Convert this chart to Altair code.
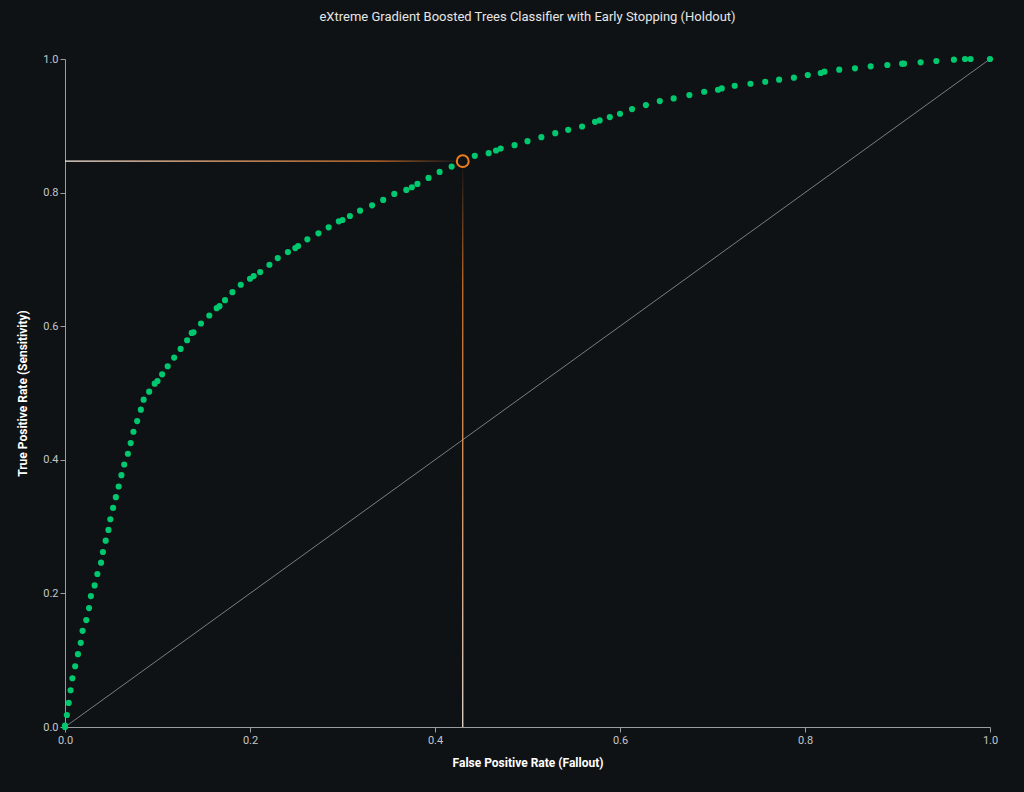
import altair as alt
import pandas as pd

fpr = [0.000, 0.000, 0.002, 0.004, 0.006, 0.008, 0.011, 0.014, 0.017, 0.019, 0.023,
       0.026, 0.028, 0.032, 0.035, 0.039,
       0.041, 0.044, 0.047, 0.049, 0.052, 0.055, 0.058, 0.061, 0.064, 0.068, 0.071,
       0.074, 0.078, 0.082, 0.085, 0.091, 0.097, 0.100, 0.105, 0.111,
       0.118, 0.125, 0.132, 0.137, 0.139, 0.147, 0.156, 0.164, 0.167, 0.173, 0.181,
       0.190, 0.200, 0.204, 0.211, 0.221, 0.230, 0.241, 0.249, 0.252, 0.262, 0.274,
       0.285, 0.296, 0.300, 0.308, 0.319, 0.332,
       0.344, 0.356, 0.369, 0.375, 0.381, 0.393, 0.405, 0.418, 0.443, 0.458, 0.466,
       0.471, 0.486,
       0.500, 0.515, 0.530, 0.544, 0.559, 0.573, 0.578, 0.589, 0.600, 0.613, 0.628,
       0.643, 0.658, 0.675, 0.691, 0.706, 0.710, 0.724, 0.741, 0.757, 0.772, 0.788,
       0.803, 0.817, 0.821, 0.837,
       0.854, 0.871, 0.889, 0.905, 0.907, 0.925, 0.942, 0.961, 0.973, 0.979, 1.000]
tpr = [0.000, 0.002, 0.018, 0.036, 0.055, 0.073, 0.091, 0.109, 0.126, 0.144, 0.160,
       0.178, 0.196, 0.212, 0.229, 0.246,
       0.262, 0.279, 0.295, 0.311, 0.328, 0.344, 0.360, 0.377, 0.393, 0.409, 0.425,
       0.442, 0.458, 0.475, 0.490, 0.502, 0.514, 0.518, 0.528, 0.540,
       0.553, 0.566, 0.579, 0.590, 0.591, 0.604, 0.616, 0.627, 0.630, 0.639, 0.651,
       0.662, 0.671, 0.675, 0.681, 0.692, 0.702, 0.711, 0.717, 0.720, 0.730, 0.739,
       0.748, 0.757, 0.759, 0.765, 0.773, 0.781,
       0.789, 0.798, 0.804, 0.808, 0.813, 0.822, 0.831, 0.839, 0.855, 0.859, 0.863,
       0.866, 0.871,
       0.877, 0.883, 0.889, 0.894, 0.899, 0.906, 0.908, 0.913, 0.918, 0.925, 0.931,
       0.937, 0.941, 0.946, 0.951, 0.954, 0.956, 0.960, 0.963, 0.966, 0.969, 0.972,
       0.976, 0.979, 0.981, 0.984,
       0.986, 0.989, 0.991, 0.993, 0.993, 0.995, 0.997, 0.999, 1.000, 1.000, 1.000]

threshold_fpr = [0.430]
threshold_tpr = [0.847]

diag_x = [0.0, 1.0]
diag_y = [0.0, 1.0]

BG = "#0f1215"
curve = pd.DataFrame({"fpr": fpr, "tpr": tpr})
thr = pd.DataFrame({"fpr": threshold_fpr, "tpr": threshold_tpr, "zero": [0.0]})
diag = pd.DataFrame({"fpr": diag_x, "tpr": diag_y})

xscale = alt.Scale(domain=[0, 1], nice=False, zero=False, padding=0)
yscale = alt.Scale(domain=[0, 1], nice=False, zero=False, padding=0)
xaxis = alt.Axis(title="False Positive Rate (Fallout)", values=[0, 0.2, 0.4, 0.6, 0.8, 1.0],
                 format=".1f", grid=False, labelPadding=2, titlePadding=12,
                 labelFlush=False)
yaxis = alt.Axis(title="True Positive Rate (Sensitivity)", values=[0, 0.2, 0.4, 0.6, 0.8, 1.0],
                 format=".1f", grid=False, labelPadding=2, titlePadding=13,
                 labelFlush=False)

diag_layer = alt.Chart(diag).mark_line(color="#7a7d80", strokeWidth=1).encode(
    x=alt.X("fpr:Q", scale=xscale, axis=xaxis),
    y=alt.Y("tpr:Q", scale=yscale, axis=yaxis),
)

stops = [
    alt.GradientStop(offset=0, color="#fdeee2"),
    alt.GradientStop(offset=0.4, color="#f4ab74"),
    alt.GradientStop(offset=0.78, color="#d9772c"),
    alt.GradientStop(offset=1, color=BG),
]

hline = alt.Chart(thr).mark_bar(
    orient="horizontal", size=1.2,
    color=alt.Gradient(gradient="linear", stops=stops, x1=0, x2=1, y1=0, y2=0),
).encode(
    x=alt.X("zero:Q", scale=xscale, axis=xaxis),
    x2="fpr:Q",
    y=alt.Y("tpr:Q", scale=yscale, axis=yaxis),
)

vline = alt.Chart(thr).mark_bar(
    orient="vertical", size=1.2,
    color=alt.Gradient(gradient="linear", stops=stops, x1=0, x2=0, y1=1, y2=0),
).encode(
    x=alt.X("fpr:Q", scale=xscale, axis=xaxis),
    y=alt.Y("zero:Q", scale=yscale, axis=yaxis),
    y2="tpr:Q",
)

points = alt.Chart(curve).mark_circle(color="#00c86e", size=38, opacity=1).encode(
    x=alt.X("fpr:Q", scale=xscale, axis=xaxis),
    y=alt.Y("tpr:Q", scale=yscale, axis=yaxis),
)

ring = alt.Chart(thr).mark_point(shape="circle", filled=False, color="#f07d1c",
                                 size=140, strokeWidth=2, opacity=1).encode(
    x=alt.X("fpr:Q", scale=xscale, axis=xaxis),
    y=alt.Y("tpr:Q", scale=yscale, axis=yaxis),
)

chart = alt.layer(diag_layer, hline, vline, points, ring).properties(
    width=925, height=668,
    autosize=alt.AutoSizeParams(type="none"),
    padding={"left": 57, "top": 51, "right": 14, "bottom": 45},
    background=BG,
    title=alt.TitleParams(
        "eXtreme Gradient Boosted Trees Classifier with Early Stopping (Holdout)",
        anchor="middle", font="Roboto", fontSize=13, fontWeight="normal",
        color="#e6e6e6", offset=29,
    ),
).configure_view(stroke=None).configure_scale(continuousPadding=0).configure_axis(
    domainColor="#9a9c9e", tickColor="#9a9c9e", labelColor="#c4c6c8",
    labelFont="Roboto", labelFontSize=11, titleFont="Roboto", titleFontSize=12,
    titleFontWeight="bold", titleColor="#ffffff", tickSize=5,
)

TEMPLATE_SRC = """<!DOCTYPE html>
<html>
<head>
<meta charset="utf-8">
<style>html, body { background: #0f1215; margin: 0; } body { padding: 8px; }</style>
<script type="text/javascript" src="{{ base_url }}/vega@{{ vega_version }}"></script>
<script type="text/javascript" src="{{ base_url }}/vega-lite@{{ vegalite_version }}"></script>
<script type="text/javascript" src="{{ base_url }}/vega-embed@{{ vegaembed_version }}"></script>
</head>
<body>
<div id="{{ output_div }}"></div>
<script type="text/javascript">
  (function(vegaEmbed) {
    var spec = {{ spec }};
    var embedOpt = {{ embed_options }};
    vegaEmbed("#{{ output_div }}", spec, embedOpt).catch(function(err) {
      document.getElementById("{{ output_div }}").innerHTML = "<pre>" + err + "</pre>";
    });
  })(vegaEmbed);
</script>
</body>
</html>
"""

try:
    import jinja2
    chart.save("out.html", embed_options={"renderer": "svg", "actions": False},
               template=jinja2.Template(TEMPLATE_SRC))
except Exception:
    chart.save("out.html", embed_options={"renderer": "svg", "actions": False})
